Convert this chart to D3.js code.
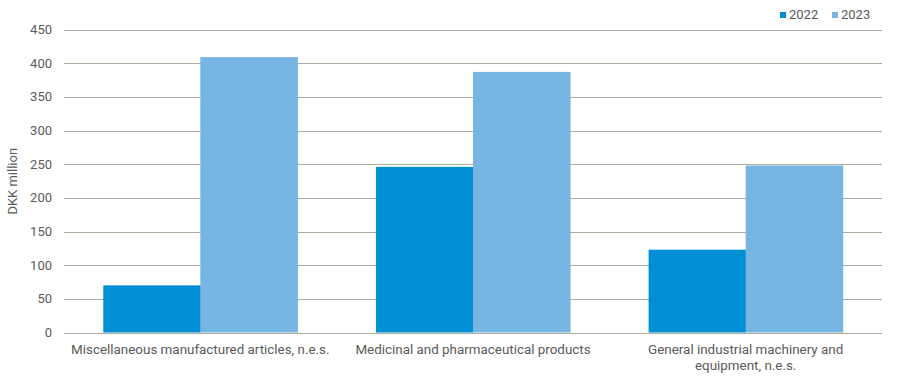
<!DOCTYPE html>
<html>
<head>
<meta charset="utf-8">
<script src="https://cdn.jsdelivr.net/npm/d3@7"></script>
<style>
  body { margin: 0; background: #fff; }
  svg text { font-family: Roboto, "Noto Sans", sans-serif; fill: #5a5a5a; }
</style>
</head>
<body>
<svg id="chart" width="900" height="383"></svg>
<script>
const categories = [
  ["Miscellaneous manufactured articles, n.e.s."],
  ["Medicinal and pharmaceutical products"],
  ["General industrial machinery and", "equipment, n.e.s."]
];
const series = ["2022", "2023"];
const values2022 = [70, 246, 123];
const values2023 = [409, 387, 248];
const yTicks = [0, 50, 100, 150, 200, 250, 300, 350, 400, 450];

const COLORS = { "2022": "#008fd5", "2023": "#77b5e3" };
const GRID = "#aeab9d";

const margin = { top: 29.5, right: 18, bottom: 50, left: 64 };
const width = 900, height = 383;

const svg = d3.select("#chart");

const x0 = d3.scaleBand()
  .domain(d3.range(categories.length))
  .range([margin.left, width - margin.right])
  .paddingInner(0.288)
  .paddingOuter(0.144);

const x1 = d3.scaleBand()
  .domain(series)
  .range([0, x0.bandwidth()]);

const y = d3.scaleLinear()
  .domain([0, 450])
  .range([height - margin.bottom - 0.5, margin.top]);

// gridlines
svg.append("g")
  .selectAll("line")
  .data(yTicks)
  .join("line")
  .attr("x1", margin.left)
  .attr("x2", width - margin.right)
  .attr("y1", (d) => Math.round(y(d)) + 0.5)
  .attr("y2", (d) => Math.round(y(d)) + 0.5)
  .attr("stroke", GRID)
  .attr("stroke-width", 1);

// tick labels
svg.append("g")
  .selectAll("text")
  .data(yTicks)
  .join("text")
  .attr("x", 52)
  .attr("y", (d) => y(d))
  .attr("dy", "0.35em")
  .attr("text-anchor", "end")
  .attr("font-size", 13)
  .text((d) => d);

// y axis title
svg.append("text")
  .attr("transform", `translate(17, ${(margin.top + height - margin.bottom) / 2}) rotate(-90)`)
  .attr("text-anchor", "middle")
  .attr("font-size", 13)
  .text("DKK million");

// bars
const rows = categories.map((c, i) => ({
  i,
  vals: [
    { key: "2022", v: values2022[i] },
    { key: "2023", v: values2023[i] }
  ]
}));

const groups = svg.append("g")
  .selectAll("g")
  .data(rows)
  .join("g")
  .attr("transform", (d) => `translate(${x0(d.i)},0)`);

groups.selectAll("rect")
  .data((d) => d.vals)
  .join("rect")
  .attr("x", (d) => x1(d.key))
  .attr("width", x1.bandwidth() + 0.5)
  .attr("y", (d) => y(d.v))
  .attr("height", (d) => y(0) - y(d.v))
  .attr("fill", (d) => COLORS[d.key]);

// redraw baseline over bars
svg.append("line")
  .attr("x1", margin.left)
  .attr("x2", width - margin.right)
  .attr("y1", Math.round(y(0)) + 0.5)
  .attr("y2", Math.round(y(0)) + 0.5)
  .attr("stroke", GRID);

// category labels
const labels = svg.append("g")
  .selectAll("text")
  .data(categories)
  .join("text")
  .attr("x", (d, i) => x0(i) + x0.bandwidth() / 2)
  .attr("y", 354)
  .attr("text-anchor", "middle")
  .attr("font-size", 13.4);

labels.selectAll("tspan")
  .data((d) => d)
  .join("tspan")
  .attr("x", function () { return this.parentNode.getAttribute("x"); })
  .attr("dy", (d, i) => (i === 0 ? 0 : 16))
  .text((d) => d);

// legend
const legend = svg.append("g")
  .selectAll("g")
  .data(series)
  .join("g")
  .attr("transform", (d, i) => `translate(${780 + i * 52}, 0)`);

legend.append("rect")
  .attr("x", 0)
  .attr("y", 12)
  .attr("width", 6)
  .attr("height", 6)
  .attr("fill", (d) => COLORS[d]);

legend.append("text")
  .attr("x", 9)
  .attr("y", 19)
  .attr("font-size", 13)
  .text((d) => d);
</script>
</body>
</html>
